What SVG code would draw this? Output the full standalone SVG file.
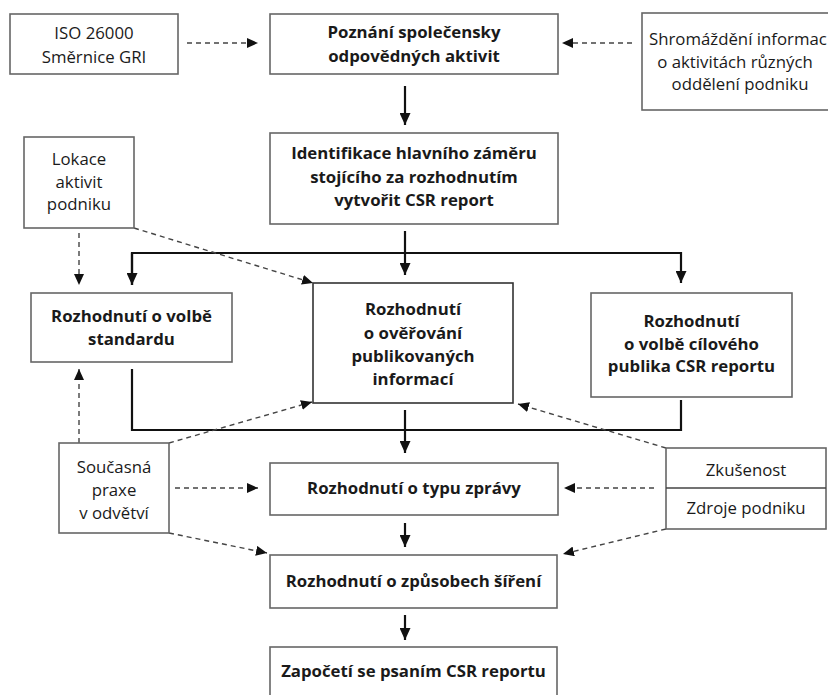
<svg xmlns="http://www.w3.org/2000/svg" width="828" height="695" viewBox="0 0 828 695">
<style>
.box{fill:#fff;stroke:#666;stroke-width:1.6}
.boxd{fill:#fff;stroke:#333;stroke-width:1.6}
text{font-family:"Open Sans","Liberation Sans",sans-serif;font-size:16.8px;fill:#1a1a1a;text-anchor:middle}
.b{font-weight:700}
.solid{fill:none;stroke:#111;stroke-width:2.2}
.dash{fill:none;stroke:#444;stroke-width:1.4;stroke-dasharray:5 4}
</style>
<defs>
<marker id="ah" markerUnits="userSpaceOnUse" markerWidth="12" markerHeight="11" refX="12" refY="5.5" orient="auto"><path d="M0,0 L12,5.5 L0,11 z" fill="#111"/></marker>
<marker id="ad" markerUnits="userSpaceOnUse" markerWidth="11" markerHeight="10" refX="11" refY="5" orient="auto"><path d="M0,0 L11,5 L0,10 z" fill="#111"/></marker>
</defs>
<rect width="828" height="695" fill="#fff"/>
<g id="connectors">
<path class="solid" d="M405,86 V125" marker-end="url(#ah)"/>
<path class="solid" d="M405,231 V275" marker-end="url(#ah)"/>
<path class="solid" d="M132,285 V253 H681 V283" marker-end="url(#ah)"/>
<path class="solid" d="M132,253 V285" marker-end="url(#ah)"/>
<path class="solid" d="M132,369 V430 H681 V400"/>
<path class="solid" d="M405,410 V453" marker-end="url(#ah)"/>
<path class="solid" d="M405,523 V547" marker-end="url(#ah)"/>
<path class="solid" d="M405,615 V640" marker-end="url(#ah)"/>
<path class="dash" d="M187,43 H258" marker-end="url(#ad)"/>
<path class="dash" d="M632,43 H562" marker-end="url(#ad)"/>
<path class="dash" d="M79,233 V285" marker-end="url(#ad)"/>
<path class="dash" d="M134,228 L313,283" marker-end="url(#ad)"/>
<path class="dash" d="M79,443 V369" marker-end="url(#ad)"/>
<path class="dash" d="M169,443 L312,402" marker-end="url(#ad)"/>
<path class="dash" d="M175,488 H258" marker-end="url(#ad)"/>
<path class="dash" d="M169,533 L267,553" marker-end="url(#ad)"/>
<path class="dash" d="M666,448 L518,404" marker-end="url(#ad)"/>
<path class="dash" d="M654,488 H564" marker-end="url(#ad)"/>
<path class="dash" d="M666,529 L563,554" marker-end="url(#ad)"/>
</g>
<g id="iso">
<rect class="box" x="10" y="14" width="168" height="60"/>
<text x="94" y="39">ISO 26000</text>
<text x="94" y="63">Směrnice GRI</text>
</g>
<g id="poznani">
<rect class="box" x="270" y="14" width="288" height="60"/>
<text class="b" x="414" y="38">Poznání společensky</text>
<text class="b" x="414" y="62">odpovědných aktivit</text>
</g>
<g id="shromazdeni">
<rect class="box" x="642" y="13" width="200" height="97"/>
<text x="649" y="45" style="text-anchor:start">Shromáždění informac</text>
<text x="735" y="68">o aktivitách různých</text>
<text x="740" y="90">oddělení podniku</text>
</g>
<g id="identifikace">
<rect class="box" x="270" y="133" width="288" height="91"/>
<text class="b" x="414" y="159">Identifikace hlavního záměru</text>
<text class="b" x="414" y="183">stojícího za rozhodnutím</text>
<text class="b" x="414" y="206">vytvořit CSR report</text>
</g>
<g id="lokace">
<rect class="box" x="24" y="137" width="110" height="91"/>
<text x="79" y="165">Lokace</text>
<text x="79" y="188">aktivit</text>
<text x="79" y="210">podniku</text>
</g>
<g id="standard">
<rect class="box" x="31" y="293" width="201" height="69"/>
<text class="b" x="131.5" y="322">Rozhodnutí o volbě</text>
<text class="b" x="131.5" y="345">standardu</text>
</g>
<g id="overovani">
<rect class="boxd" x="313" y="283" width="200" height="120"/>
<text class="b" x="413" y="315">Rozhodnutí</text>
<text class="b" x="413" y="339">o ověřování</text>
<text class="b" x="413" y="362">publikovaných</text>
<text class="b" x="413" y="385">informací</text>
</g>
<g id="publikum">
<rect class="box" x="591" y="293" width="201" height="104"/>
<text class="b" x="691.5" y="327">Rozhodnutí</text>
<text class="b" x="691.5" y="350">o volbě cílového</text>
<text class="b" x="691.5" y="372">publika CSR reportu</text>
</g>
<g id="typ">
<rect class="box" x="270" y="463" width="288" height="52"/>
<text class="b" x="414" y="494">Rozhodnutí o typu zprávy</text>
</g>
<g id="soucasna">
<rect class="box" x="59" y="443" width="110" height="90"/>
<text x="114" y="473">Současná</text>
<text x="114" y="496">praxe</text>
<text x="114" y="519">v odvětví</text>
</g>
<g id="zkusenost">
<rect class="box" x="666" y="448" width="160" height="81"/>
<line x1="666" y1="488" x2="826" y2="488" stroke="#444" stroke-width="1.4"/>
<text x="746" y="476">Zkušenost</text>
<text x="746" y="514">Zdroje podniku</text>
</g>
<g id="zpusob">
<rect class="box" x="270" y="555" width="287" height="53"/>
<text class="b" x="413.5" y="587">Rozhodnutí o způsobech šíření</text>
</g>
<g id="zapoceti">
<rect class="box" x="270" y="647" width="287" height="60"/>
<text class="b" x="413.5" y="677">Započetí se psaním CSR reportu</text>
</g>
</svg>
